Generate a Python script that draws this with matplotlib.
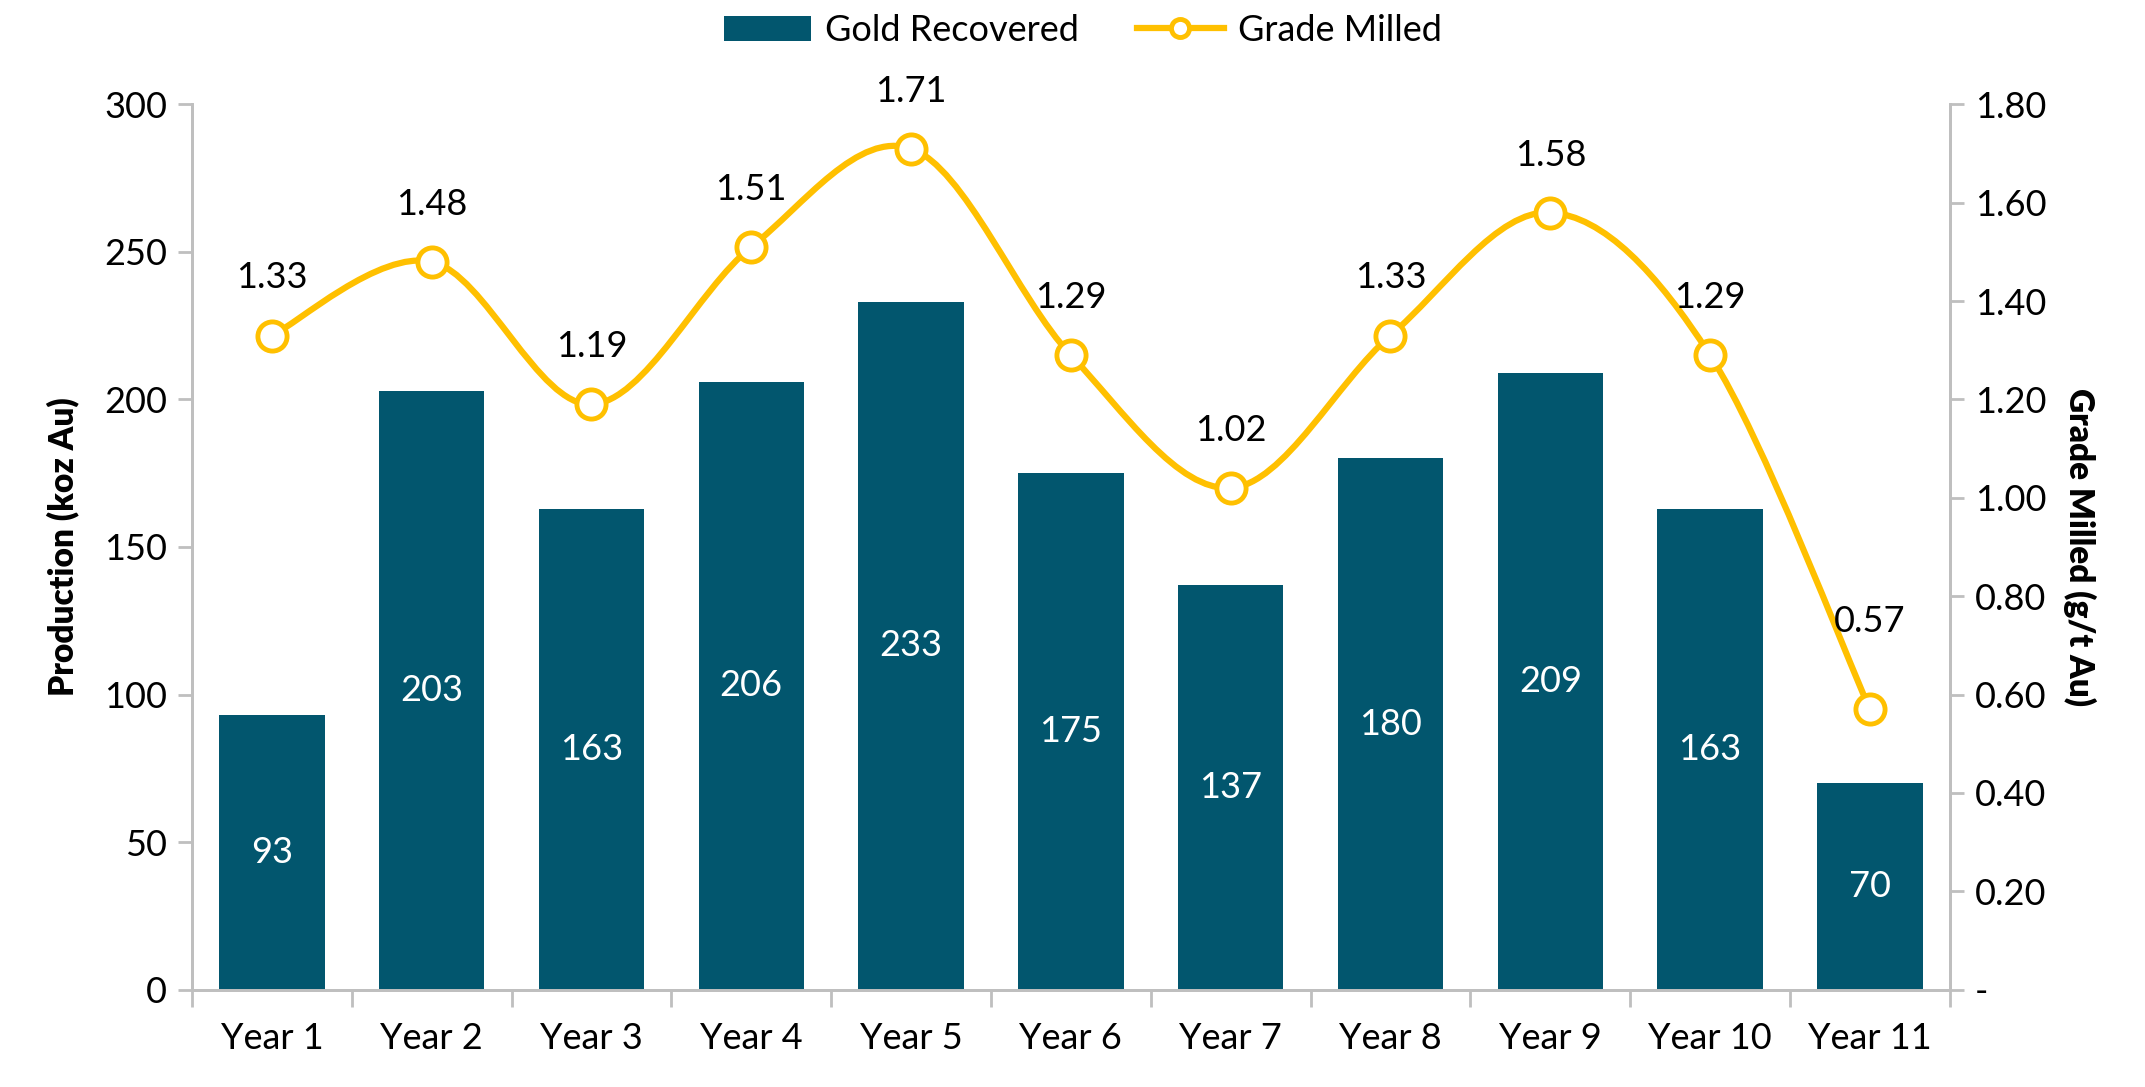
import matplotlib.pyplot as plt
import numpy as np
from matplotlib.path import Path
from matplotlib.patches import PathPatch
from matplotlib.lines import Line2D
from matplotlib.patches import Patch

plt.rcParams['font.family'] = ['Lato', 'DejaVu Sans']

years = ['Year 1', 'Year 2', 'Year 3', 'Year 4', 'Year 5', 'Year 6',
         'Year 7', 'Year 8', 'Year 9', 'Year 10', 'Year 11']
gold_recovered = [93, 203, 163, 206, 233, 175, 137, 180, 209, 163, 70]
grade_milled = [1.33, 1.48, 1.19, 1.51, 1.71, 1.29, 1.02, 1.33, 1.58, 1.29, 0.57]

bar_color = '#02566E'
line_color = '#FFC000'
axis_gray = '#BFBFBF'
fs = 26

fig = plt.figure(figsize=(21.45, 10.87), dpi=100)
ax = fig.add_axes([0.0895, 0.0896, 0.8195, 0.8144])
ax2 = ax.twinx()

x = np.arange(len(years))
bars = ax.bar(x, gold_recovered, width=0.66, color=bar_color, zorder=2)
for xi, v in zip(x, gold_recovered):
    ax.text(xi, v / 2, f'{v}', ha='center', va='center', color='white', fontsize=fs)

# smoothed line like excel (catmull-rom as bezier)
pts = np.column_stack([x, grade_milled]).astype(float)
verts = [pts[0]]
codes = [Path.MOVETO]
n = len(pts)
for i in range(n - 1):
    p0 = pts[i - 1] if i > 0 else pts[i]
    p1 = pts[i]
    p2 = pts[i + 1]
    p3 = pts[i + 2] if i + 2 < n else pts[i + 1]
    c1 = p1 + (p2 - p0) / 6
    c2 = p2 - (p3 - p1) / 6
    verts += [c1, c2, p2]
    codes += [Path.CURVE4] * 3
ax2.add_patch(PathPatch(Path(verts, codes), facecolor='none', edgecolor=line_color,
                        lw=4.5, zorder=3))
ax2.plot(x, grade_milled, linestyle='none', marker='o', markersize=21,
         markerfacecolor='white', markeredgecolor=line_color, markeredgewidth=3.5, zorder=4)
for i, (xi, v) in enumerate(zip(x, grade_milled)):
    off = 0.178 if i == len(x) - 1 else 0.117  # last label sits higher, clear of the line
    ax2.text(xi, v + off, f'{v:.2f}', ha='center', va='center', fontsize=fs, color='black')

ax.set_xlim(-0.5, len(years) - 0.5)
ax.set_ylim(0, 300)
ax.set_yticks(range(0, 301, 50))
ax2.set_ylim(0, 1.8)
ax2.set_yticks(np.arange(0, 1.81, 0.2))
ax2.set_yticklabels(['-'] + [f'{t:.2f}' for t in np.arange(0.2, 1.81, 0.2)])

ax.set_xticks(x)
ax.set_xticklabels(years)
ax.set_xticks(np.arange(-0.5, len(years), 1), minor=True)
ax.tick_params(axis='x', which='major', length=0, pad=23, labelsize=fs)
ax.tick_params(axis='x', which='minor', length=12, width=2, color=axis_gray)
ax.tick_params(axis='y', length=10, width=2, color=axis_gray, labelsize=fs, pad=8)
ax2.tick_params(axis='y', length=10, width=2, color=axis_gray, labelsize=fs, pad=8)

for a in (ax, ax2):
    a.spines['top'].set_visible(False)
    for s in ('left', 'right', 'bottom'):
        a.spines[s].set_color(axis_gray)
        a.spines[s].set_linewidth(2)

ax.set_ylabel('Production (koz Au)', fontsize=24, fontweight='heavy', labelpad=18)
ax2.set_ylabel('Grade Milled (g/t Au)', fontsize=24, fontweight='heavy', rotation=270,
               labelpad=36)

handles = [Patch(facecolor=bar_color),
           Line2D([0], [0], color=line_color, lw=4.5, marker='o', markersize=13,
                  markerfacecolor='white', markeredgecolor=line_color, markeredgewidth=3.5)]
fig.legend(handles, ['Gold Recovered', 'Grade Milled'], loc='center',
           bbox_to_anchor=(0.505, 0.972), ncol=2, frameon=False, fontsize=fs,
           handlelength=2.4, handleheight=0.7, columnspacing=1.6, handletextpad=0.4)

fig.savefig('out.png', dpi=100)
